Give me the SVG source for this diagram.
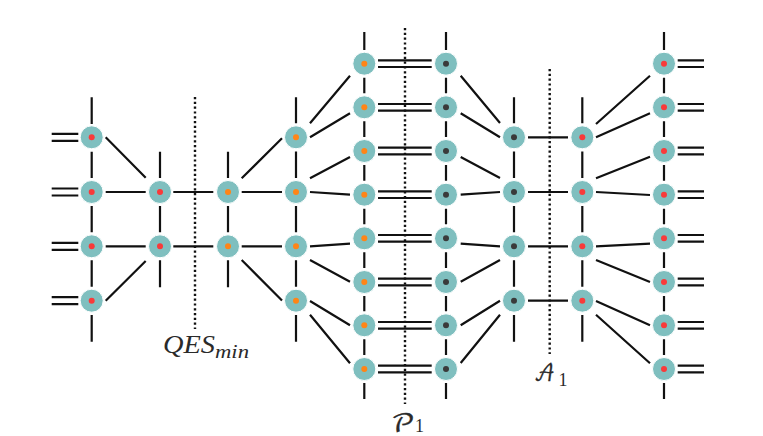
<svg xmlns="http://www.w3.org/2000/svg" width="763" height="436" viewBox="0 0 763 436">
<style>
.n{fill:#7fbfbf;stroke:#fff;stroke-width:1}
.r{fill:#f93a3a}.o{fill:#ff8517}.k{fill:#3a3a3a}
#connectors path{fill:none;stroke:#111;stroke-width:2.2}
#connectors path.d{stroke-width:2.4;stroke-dasharray:2.2 2.6}
text{fill:#2a2a2a;font-family:"Liberation Serif",serif;font-style:italic}
.s{font-family:"DejaVu Math TeX Gyre","Liberation Serif",serif;font-style:normal;stroke:#2a2a2a;stroke-width:.3}
.u{font-style:normal}
</style>
<g id="connectors">
<path d="M91.7 97.3V124M91.7 151.8V178M91.7 206V232.3M91.7 260.3V286.7M91.7 315V341.7"/>
<path d="M160 151.7V178M160 206V232.3M160 260.3V287.3"/>
<path d="M228 151.7V178M228 206V232.3M228 260.3V287.3"/>
<path d="M296 97.3V123.3M296 151.5V178M296 206V232.3M296 260.3V286.7M296 315V341.7"/>
<path d="M364.3 32V50M364.3 77.7V93.3M364.3 121.3V137M364.3 165V180.7M364.3 208.7V224.3M364.3 252.3V268M364.3 296V311.3M364.3 339.3V355M364.3 383V399"/>
<path d="M446 32V50M446 77.7V93.3M446 121.3V137M446 165V180.7M446 208.7V224.3M446 252.3V268M446 296V311.3M446 339.3V355M446 383V399"/>
<path d="M514 97.3V123.3M514 151.5V178M514 206V232.3M514 260.3V286.7M514 315V341.7"/>
<path d="M582.3 97.3V123.3M582.3 151.5V178M582.3 206V232.3M582.3 260.3V286.7M582.3 315V341.7"/>
<path d="M664 32V50M664 77.7V93.3M664 121.3V137M664 165V180.7M664 208.7V224.3M664 252.3V268M664 296V311.3M664 339.3V355M664 383V399"/>
<path d="M51.7 133.8H78.3M51.7 140.8H78.3M51.7 188.5H78.3M51.7 195.5H78.3M51.7 242.8H78.3M51.7 249.8H78.3M51.7 297.2H78.3M51.7 304.2H78.3"/>
<path d="M378 60.4H431.7M378 67H431.7M378 104H431.7M378 110.6H431.7M378 147.7H431.7M378 154.3H431.7M378 191.4H431.7M378 198H431.7M378 235H431.7M378 241.6H431.7M378 278.7H431.7M378 285.3H431.7M378 322H431.7M378 328.6H431.7M378 365.7H431.7M378 372.3H431.7"/>
<path d="M677.7 60.4H704M677.7 67H704M677.7 104H704M677.7 110.6H704M677.7 147.7H704M677.7 154.3H704M677.7 191.4H704M677.7 198H704M677.7 235H704M677.7 241.6H704M677.7 278.7H704M677.7 285.3H704M677.7 322H704M677.7 328.6H704M677.7 365.7H704M677.7 372.3H704"/>
<path d="M105.7 137.3L145.7 177.7M105.7 300.7L145.7 261M105.7 192H145.7M105.7 246.3H145.7M173.3 192H213.3M173.3 246.3H213.3M241.7 192H282M241.7 246.3H282M241.7 178.3L282 138.3M241.7 260L282 300.5"/>
<path d="M310 123.3L350 75.7M310 137.3L350 113.3M310 178.3L350 157M310 192L350 194.7M310 246.3L350 243.7M310 260L350 281.7M310 301L350 325.3M310 314.7L350 363.3"/>
<path d="M460.7 75.7L500 123M460.7 113.3L500 137.3M460.7 157L500 178M460.7 194.7L500 192M460.7 243.7L500 246.3M460.7 281.7L500 260M460.7 325.3L500 300.7M460.7 363L500 314.7"/>
<path d="M528 137.3H568M528 192H568M528 246.3H568M528 300.7H568"/>
<path d="M596 124L650 75.7M596 137.3L650 113.3M596 178.3L650 156.7M596 192L650 195M596 246.3L650 243.7M596 260L650 282M596 301L650 325.3M596 314.7L650 363.3"/>
<path class="d" d="M195 97V329M405 28V404M549.7 69V354"/>
</g>
<g id="c1r1"><circle class="n" cx="91.7" cy="137.3" r="11.5"/><circle class="r" cx="91.7" cy="137.3" r="3"/></g>
<g id="c1r2"><circle class="n" cx="91.7" cy="192" r="11.5"/><circle class="r" cx="91.7" cy="192" r="3"/></g>
<g id="c1r3"><circle class="n" cx="91.7" cy="246.3" r="11.5"/><circle class="r" cx="91.7" cy="246.3" r="3"/></g>
<g id="c1r4"><circle class="n" cx="91.7" cy="300.7" r="11.5"/><circle class="r" cx="91.7" cy="300.7" r="3"/></g>
<g id="c2r2"><circle class="n" cx="160" cy="192" r="11.5"/><circle class="r" cx="160" cy="192" r="3"/></g>
<g id="c2r3"><circle class="n" cx="160" cy="246.3" r="11.5"/><circle class="r" cx="160" cy="246.3" r="3"/></g>
<g id="c3r2"><circle class="n" cx="228" cy="192" r="11.5"/><circle class="o" cx="228" cy="192" r="3"/></g>
<g id="c3r3"><circle class="n" cx="228" cy="246.3" r="11.5"/><circle class="o" cx="228" cy="246.3" r="3"/></g>
<g id="c4r1"><circle class="n" cx="296" cy="137.3" r="11.5"/><circle class="o" cx="296" cy="137.3" r="3"/></g>
<g id="c4r2"><circle class="n" cx="296" cy="192" r="11.5"/><circle class="o" cx="296" cy="192" r="3"/></g>
<g id="c4r3"><circle class="n" cx="296" cy="246.3" r="11.5"/><circle class="o" cx="296" cy="246.3" r="3"/></g>
<g id="c4r4"><circle class="n" cx="296" cy="300.7" r="11.5"/><circle class="o" cx="296" cy="300.7" r="3"/></g>
<g id="c5r1"><circle class="n" cx="364.3" cy="63.7" r="11.5"/><circle class="o" cx="364.3" cy="63.7" r="3"/></g>
<g id="c5r2"><circle class="n" cx="364.3" cy="107.3" r="11.5"/><circle class="o" cx="364.3" cy="107.3" r="3"/></g>
<g id="c5r3"><circle class="n" cx="364.3" cy="151" r="11.5"/><circle class="o" cx="364.3" cy="151" r="3"/></g>
<g id="c5r4"><circle class="n" cx="364.3" cy="194.7" r="11.5"/><circle class="o" cx="364.3" cy="194.7" r="3"/></g>
<g id="c5r5"><circle class="n" cx="364.3" cy="238.3" r="11.5"/><circle class="o" cx="364.3" cy="238.3" r="3"/></g>
<g id="c5r6"><circle class="n" cx="364.3" cy="282" r="11.5"/><circle class="o" cx="364.3" cy="282" r="3"/></g>
<g id="c5r7"><circle class="n" cx="364.3" cy="325.3" r="11.5"/><circle class="o" cx="364.3" cy="325.3" r="3"/></g>
<g id="c5r8"><circle class="n" cx="364.3" cy="369" r="11.5"/><circle class="o" cx="364.3" cy="369" r="3"/></g>
<g id="c6r1"><circle class="n" cx="446" cy="63.7" r="11.5"/><circle class="k" cx="446" cy="63.7" r="3"/></g>
<g id="c6r2"><circle class="n" cx="446" cy="107.3" r="11.5"/><circle class="k" cx="446" cy="107.3" r="3"/></g>
<g id="c6r3"><circle class="n" cx="446" cy="151" r="11.5"/><circle class="k" cx="446" cy="151" r="3"/></g>
<g id="c6r4"><circle class="n" cx="446" cy="194.7" r="11.5"/><circle class="k" cx="446" cy="194.7" r="3"/></g>
<g id="c6r5"><circle class="n" cx="446" cy="238.3" r="11.5"/><circle class="k" cx="446" cy="238.3" r="3"/></g>
<g id="c6r6"><circle class="n" cx="446" cy="282" r="11.5"/><circle class="k" cx="446" cy="282" r="3"/></g>
<g id="c6r7"><circle class="n" cx="446" cy="325.3" r="11.5"/><circle class="k" cx="446" cy="325.3" r="3"/></g>
<g id="c6r8"><circle class="n" cx="446" cy="369" r="11.5"/><circle class="k" cx="446" cy="369" r="3"/></g>
<g id="c7r1"><circle class="n" cx="514" cy="137.3" r="11.5"/><circle class="k" cx="514" cy="137.3" r="3"/></g>
<g id="c7r2"><circle class="n" cx="514" cy="192" r="11.5"/><circle class="k" cx="514" cy="192" r="3"/></g>
<g id="c7r3"><circle class="n" cx="514" cy="246.3" r="11.5"/><circle class="k" cx="514" cy="246.3" r="3"/></g>
<g id="c7r4"><circle class="n" cx="514" cy="300.7" r="11.5"/><circle class="k" cx="514" cy="300.7" r="3"/></g>
<g id="c8r1"><circle class="n" cx="582.3" cy="137.3" r="11.5"/><circle class="r" cx="582.3" cy="137.3" r="3"/></g>
<g id="c8r2"><circle class="n" cx="582.3" cy="192" r="11.5"/><circle class="r" cx="582.3" cy="192" r="3"/></g>
<g id="c8r3"><circle class="n" cx="582.3" cy="246.3" r="11.5"/><circle class="r" cx="582.3" cy="246.3" r="3"/></g>
<g id="c8r4"><circle class="n" cx="582.3" cy="300.7" r="11.5"/><circle class="r" cx="582.3" cy="300.7" r="3"/></g>
<g id="c9r1"><circle class="n" cx="664" cy="63.7" r="11.5"/><circle class="r" cx="664" cy="63.7" r="3"/></g>
<g id="c9r2"><circle class="n" cx="664" cy="107.3" r="11.5"/><circle class="r" cx="664" cy="107.3" r="3"/></g>
<g id="c9r3"><circle class="n" cx="664" cy="151" r="11.5"/><circle class="r" cx="664" cy="151" r="3"/></g>
<g id="c9r4"><circle class="n" cx="664" cy="194.7" r="11.5"/><circle class="r" cx="664" cy="194.7" r="3"/></g>
<g id="c9r5"><circle class="n" cx="664" cy="238.3" r="11.5"/><circle class="r" cx="664" cy="238.3" r="3"/></g>
<g id="c9r6"><circle class="n" cx="664" cy="282" r="11.5"/><circle class="r" cx="664" cy="282" r="3"/></g>
<g id="c9r7"><circle class="n" cx="664" cy="325.3" r="11.5"/><circle class="r" cx="664" cy="325.3" r="3"/></g>
<g id="c9r8"><circle class="n" cx="664" cy="369" r="11.5"/><circle class="r" cx="664" cy="369" r="3"/></g>
<text x="163" y="353" font-size="26" textLength="52" lengthAdjust="spacingAndGlyphs">QES</text>
<text x="215" y="358" font-size="19" textLength="34" lengthAdjust="spacingAndGlyphs">min</text>
<text class="s" x="391" y="431" font-size="24" textLength="24" lengthAdjust="spacingAndGlyphs">𝒫</text>
<text class="u" x="415" y="432" font-size="18">1</text>
<text class="s" x="534" y="381" font-size="22" textLength="21" lengthAdjust="spacingAndGlyphs">𝒜</text>
<text class="u" x="558.5" y="386" font-size="18">1</text>
</svg>
